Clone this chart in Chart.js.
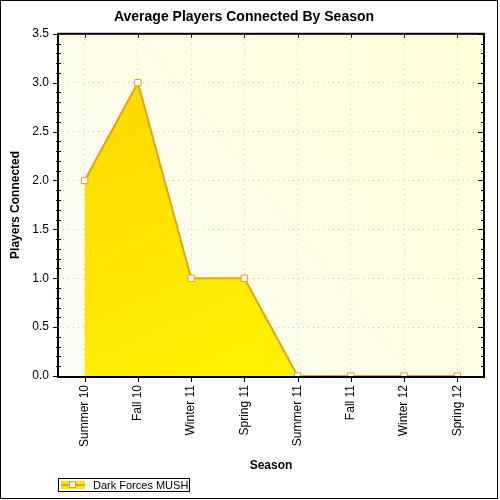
<!DOCTYPE html>
<html>
<head>
<meta charset="utf-8">
<script src="https://cdn.jsdelivr.net/npm/chart.js@4/dist/chart.umd.min.js"></script>
<style>
  html, body { margin: 0; padding: 0; background: #fff; }
  #wrap { width: 500px; height: 500px; position: relative; }
</style>
</head>
<body>
<div id="wrap"><canvas id="c" width="500" height="500"></canvas></div>
<script>
const categories = ["Summer 10", "Fall 10", "Winter 11", "Spring 11", "Summer 11", "Fall 11", "Winter 12", "Spring 12"];
const playersConnected = [2.0, 3.0, 1.0, 1.0, 0.0, 0.0, 0.0, 0.0];
const seriesName = "Dark Forces MUSH";
const chartTitle = "Average Players Connected By Season";
const yAxisTitle = "Players Connected";
const xAxisTitle = "Season";
const yMin = 0, yMax = 3.5, yStep = 0.5, yMinorStep = 0.1;

const FONT = "'Liberation Sans', Arial, sans-serif";
const LINE = "#DAA520";

function fillGradient(ctx) {
  const ca = ctx.chart.chartArea;
  if (!ca) return "#FFE000";
  const g = ctx.chart.ctx.createLinearGradient(ca.left, ca.top, ca.left + 150, ca.bottom);
  g.addColorStop(0, "#FFD300");
  g.addColorStop(1, "#FFF000");
  return g;
}

const frame = {
  id: "frame",
  beforeDraw(chart) {
    const { ctx, chartArea: a } = chart;
    ctx.save();
    const g = ctx.createLinearGradient(a.left, a.bottom, a.right, a.top);
    g.addColorStop(0, "#FBFBF6");
    g.addColorStop(1, "#FFFFD8");
    ctx.fillStyle = g;
    ctx.fillRect(a.left, a.top, a.right - a.left, a.bottom - a.top);
    ctx.restore();
  },
  beforeDatasetsDraw(chart) {
    const { ctx, chartArea: a } = chart;
    const y = chart.scales.y, x = chart.scales.x;
    ctx.save();
    ctx.strokeStyle = "#000";
    ctx.lineWidth = 2;
    ctx.strokeRect(a.left, a.top, a.right - a.left, a.bottom - a.top + 1);
    ctx.lineWidth = 1;
    ctx.beginPath();
    const nMinor = Math.round((yMax - yMin) / yMinorStep);
    const per = Math.round(yStep / yMinorStep);
    for (let i = 0; i <= nMinor; i++) {
      const v = yMin + i * yMinorStep;
      const py = Math.round(y.getPixelForValue(v)) + 0.5;
      if (i % per === 0) {
        ctx.moveTo(a.left - 5, py); ctx.lineTo(a.left, py);
        ctx.moveTo(a.right, py); ctx.lineTo(a.right - 6, py);
      } else {
        ctx.moveTo(a.left - 2, py); ctx.lineTo(a.left + 3, py);
        ctx.moveTo(a.right, py); ctx.lineTo(a.right - 3, py);
      }
    }
    for (let i = 0; i < categories.length; i++) {
      const px = Math.round(x.getPixelForValue(i)) + 0.5;
      ctx.moveTo(px, a.bottom); ctx.lineTo(px, a.bottom + 6);
      ctx.moveTo(px, a.top); ctx.lineTo(px, a.top + 4);
    }
    ctx.stroke();
    ctx.restore();
  },
  afterDraw(chart) {
    const { ctx } = chart;
    ctx.save();
    const lx = 58, ly = 478, lw = 131, lh = 13;
    ctx.fillStyle = "#fff";
    ctx.fillRect(lx, ly, lw, lh);
    ctx.strokeStyle = "#000";
    ctx.lineWidth = 1;
    ctx.strokeRect(lx + 0.5, ly + 0.5, lw, lh);
    ctx.fillStyle = "#FFE600";
    ctx.fillRect(lx + 3, ly + 3, 24, 8);
    ctx.strokeStyle = LINE;
    ctx.lineWidth = 2;
    ctx.beginPath();
    ctx.moveTo(lx + 3, ly + 7); ctx.lineTo(lx + 27, ly + 7);
    ctx.stroke();
    ctx.fillStyle = "#fff";
    ctx.lineWidth = 1;
    ctx.fillRect(lx + 11.5, ly + 3.5, 6, 6);
    ctx.strokeRect(lx + 11.5, ly + 3.5, 6, 6);
    ctx.fillStyle = "#000";
    ctx.font = "11px " + FONT;
    ctx.textBaseline = "middle";
    ctx.textAlign = "left";
    ctx.fillText(seriesName, lx + 35, ly + 7.5);

    ctx.strokeStyle = "#000";
    ctx.lineWidth = 1;
    ctx.strokeRect(0.5, 0.5, 497, 498);
    ctx.restore();
  }
};

new Chart(document.getElementById("c"), {
  type: "line",
  data: {
    labels: categories,
    datasets: [{
      label: seriesName,
      data: playersConnected,
      borderColor: LINE,
      borderWidth: 2,
      backgroundColor: fillGradient,
      fill: "origin",
      tension: 0,
      clip: { left: 1, right: 1, top: 1, bottom: 0 },
      pointStyle: "rect",
      pointRadius: 4.5,
      pointHoverRadius: 4.5,
      pointBackgroundColor: "#fff",
      pointBorderColor: LINE,
      pointBorderWidth: 1
    }]
  },
  plugins: [frame],
  options: {
    responsive: false,
    animation: false,
    devicePixelRatio: 1,
    layout: { padding: { left: 4, right: 16, top: 0, bottom: 27 } },
    plugins: {
      legend: { display: false },
      tooltip: { enabled: false },
      title: {
        display: true,
        text: chartTitle,
        color: "#000",
        font: { family: FONT, size: 14, weight: "bold" },
        padding: { top: 9, bottom: 8 }
      }
    },
    scales: {
      x: {
        offset: true,
        afterFit(s) { s.height = 97; },
        grid: {
          offset: false,
          display: true,
          drawTicks: false,
          color: "#C8C8C8"
        },
        border: { display: false, dash: [1, 4] },
        ticks: {
          color: "#000",
          font: { family: FONT, size: 12 },
          minRotation: 90,
          maxRotation: 90,
          padding: 9,
          autoSkip: false
        },
        title: {
          display: true,
          text: xAxisTitle,
          color: "#000",
          font: { family: FONT, size: 12, weight: "bold" },
          padding: { top: 0, bottom: 0 }
        }
      },
      y: {
        min: yMin,
        max: yMax,
        afterFit(s) { s.width = 54; },
        grid: {
          color: "#C8C8C8",
          drawTicks: false
        },
        border: { display: false, dash: [1, 4] },
        ticks: {
          stepSize: yStep,
          color: "#000",
          font: { family: FONT, size: 12 },
          padding: 9,
          callback: v => Number(v).toFixed(1)
        },
        title: {
          display: true,
          text: yAxisTitle,
          color: "#000",
          font: { family: FONT, size: 12, weight: "bold" },
          padding: { top: 4, bottom: 0 }
        }
      }
    }
  }
});
</script>
</body>
</html>
